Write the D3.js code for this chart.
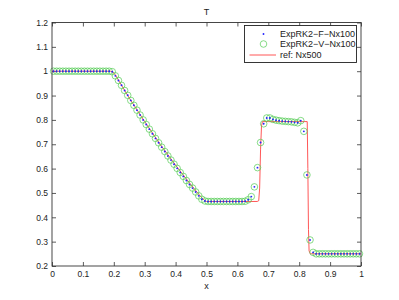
<!DOCTYPE html>
<html>
<head>
<meta charset="utf-8">
<script src="https://cdn.jsdelivr.net/npm/d3@7"></script>
<style>
  body { margin: 0; background: #fff; }
  text { font-family: "Liberation Sans", Arial, sans-serif; fill: #222; }
</style>
</head>
<body>
<div id="chart"></div>
<script>
// numerical solution on 100 cells (cell centres 0.005 .. 0.995)
const cellX = d3.range(100).map(i => +(0.005 + i * 0.01).toFixed(3));
const tempF = [
  1, 1, 1, 1, 1, 1, 1, 1, 1, 1,
  1, 1, 1, 1, 1, 1, 1, 1, 1, 0.998,
  0.981, 0.962, 0.942, 0.921, 0.901, 0.880, 0.860, 0.840, 0.820, 0.800,
  0.781, 0.762, 0.743, 0.724, 0.706, 0.688, 0.670, 0.652, 0.635, 0.618,
  0.601, 0.584, 0.568, 0.551, 0.535, 0.520, 0.504, 0.488, 0.474, 0.467,
  0.465, 0.465, 0.465, 0.465, 0.465, 0.465, 0.465, 0.465, 0.465, 0.465,
  0.465, 0.465, 0.466, 0.472, 0.485, 0.525, 0.604, 0.707, 0.784, 0.808,
  0.808, 0.802, 0.799, 0.797, 0.795, 0.794, 0.793, 0.792, 0.790, 0.788,
  0.797, 0.753, 0.574, 0.307, 0.256, 0.250, 0.250, 0.250, 0.250, 0.250,
  0.250, 0.250, 0.250, 0.250, 0.250, 0.250, 0.250, 0.250, 0.250, 0.250
];
const tempV = tempF.slice();

// reference solution Nx500 (break points of the profile)
const refX = [0, 0.19, 0.197, 0.205, 0.22, 0.25, 0.30, 0.35, 0.40, 0.45, 0.48, 0.495, 0.50,
  0.664, 0.669, 0.672, 0.675, 0.678, 0.681, 0.70, 0.80, 0.826, 0.828, 0.830, 0.832, 0.836, 1];
const refT = [1, 1, 0.997, 0.985, 0.953, 0.890, 0.793, 0.700, 0.614, 0.533, 0.487, 0.467, 0.465,
  0.465, 0.468, 0.52, 0.68, 0.775, 0.793, 0.793, 0.793, 0.793, 0.60, 0.35, 0.262, 0.25, 0.25];

const xTicks = [0, 0.1, 0.2, 0.3, 0.4, 0.5, 0.6, 0.7, 0.8, 0.9, 1];
const yTicks = [0.2, 0.3, 0.4, 0.5, 0.6, 0.7, 0.8, 0.9, 1, 1.1, 1.2];
const legendLabels = ["ExpRK2\u2212F\u2212Nx100", "ExpRK2\u2212V\u2212Nx100", "ref: Nx500"];

const W = 399, H = 300;
const margin = {top: 22.5, right: 38, bottom: 34, left: 52};

const svg = d3.select("#chart").append("svg")
  .attr("width", W).attr("height", H);

const x = d3.scaleLinear().domain([0, 1]).range([margin.left, W - margin.right]);
const y = d3.scaleLinear().domain([0.2, 1.2]).range([H - margin.bottom, margin.top]);

// axes box with inward ticks on all four sides
const tick = 4;
svg.append("g").attr("transform", `translate(0,${y(0.2)})`)
  .call(d3.axisBottom(x).tickValues(xTicks).tickFormat(d3.format("~g")).tickSizeInner(-tick).tickSizeOuter(0).tickPadding(5))
  .call(g => g.select(".domain").remove());
svg.append("g").attr("transform", `translate(0,${y(1.2)})`)
  .call(d3.axisTop(x).tickValues(xTicks).tickFormat("").tickSizeInner(-tick).tickSizeOuter(0))
  .call(g => g.select(".domain").remove());
svg.append("g").attr("transform", `translate(${x(0)},0)`)
  .call(d3.axisLeft(y).tickValues(yTicks).tickFormat(d3.format("~g")).tickSizeInner(-tick).tickSizeOuter(0).tickPadding(4))
  .call(g => g.select(".domain").remove());
svg.append("g").attr("transform", `translate(${x(1)},0)`)
  .call(d3.axisRight(y).tickValues(yTicks).tickFormat("").tickSizeInner(-tick).tickSizeOuter(0))
  .call(g => g.select(".domain").remove());

svg.selectAll(".tick line").attr("stroke", "#333").attr("stroke-width", 0.8);
svg.selectAll(".tick text").attr("font-size", 8.5).attr("fill", "#222")
  .attr("font-family", "Liberation Sans, Arial, sans-serif");

// data
const ptsF = cellX.map((d, i) => [d, tempF[i]]);
const ptsV = cellX.map((d, i) => [d, tempV[i]]);
const refPts = refX.map((d, i) => [d, refT[i]]);

const line = d3.line().x(d => x(d[0])).y(d => y(d[1]));

svg.append("path").datum(refPts)
  .attr("d", line).attr("fill", "none")
  .attr("stroke", "#f44").attr("stroke-width", 0.9);

svg.append("g").selectAll("circle").data(ptsV).join("circle")
  .attr("cx", d => x(d[0])).attr("cy", d => y(d[1])).attr("r", 3.3)
  .attr("fill", "none").attr("stroke", "#5c5").attr("stroke-width", 0.7);

svg.append("g").selectAll("circle").data(ptsF).join("circle")
  .attr("cx", d => x(d[0])).attr("cy", d => y(d[1])).attr("r", 0.95)
  .attr("fill", "#22f");

// frame
svg.append("rect")
  .attr("x", x(0)).attr("y", y(1.2))
  .attr("width", x(1) - x(0)).attr("height", y(0.2) - y(1.2))
  .attr("fill", "none").attr("stroke", "#333").attr("stroke-width", 0.9);

// title and axis label
svg.append("text").attr("x", (x(0) + x(1)) / 2).attr("y", 15)
  .attr("text-anchor", "middle").attr("font-size", 9).text("T");
svg.append("text").attr("x", (x(0) + x(1)) / 2).attr("y", 289)
  .attr("text-anchor", "middle").attr("font-size", 9).text("x");

// legend
const lg = svg.append("g");
lg.append("rect").attr("x", 244.5).attr("y", 25.5).attr("width", 112).attr("height", 37)
  .attr("fill", "#fff").attr("stroke", "#222").attr("stroke-width", 0.9);
const rowY = [34, 44, 55];
lg.append("circle").attr("cx", 263.5).attr("cy", rowY[0]).attr("r", 0.95).attr("fill", "#22f");
lg.append("circle").attr("cx", 263.5).attr("cy", rowY[1]).attr("r", 3.3)
  .attr("fill", "none").attr("stroke", "#5c5").attr("stroke-width", 0.7);
lg.append("line").attr("x1", 249.5).attr("x2", 276).attr("y1", rowY[2]).attr("y2", rowY[2])
  .attr("stroke", "#f44").attr("stroke-width", 0.9);
lg.selectAll("text.lab").data(legendLabels).join("text")
  .attr("class", "lab")
  .attr("x", 280).attr("y", (d, i) => rowY[i] + 3)
  .attr("font-size", 9).text(d => d);
</script>
</body>
</html>
